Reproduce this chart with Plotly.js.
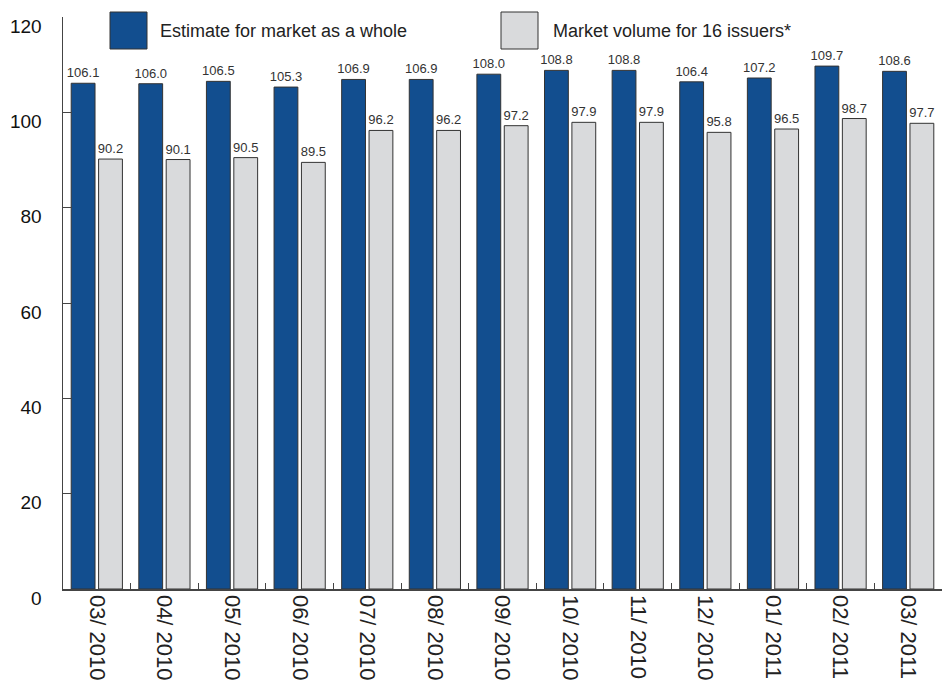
<!DOCTYPE html>
<html>
<head>
<meta charset="utf-8">
<script src="https://cdn.plot.ly/plotly-3.0.1.min.js"></script>
<style>html,body{margin:0;padding:0;background:#fff;}#chart{width:942px;height:695px;}</style>
</head>
<body>
<div id="chart"></div>
<script>
const categories = ["03/ 2010","04/ 2010","05/ 2010","06/ 2010","07/ 2010","08/ 2010","09/ 2010","10/ 2010","11/ 2010","12/ 2010","01/ 2011","02/ 2011","03/ 2011"];
const estimateMarket = [106.1,106.0,106.5,105.3,106.9,106.9,108.0,108.8,108.8,106.4,107.2,109.7,108.6];
const volume16 = [90.2,90.1,90.5,89.5,96.2,96.2,97.2,97.9,97.9,95.8,96.5,98.7,97.7];
const seriesNames = ["Estimate for market as a whole","Market volume for 16 issuers*"];
const yTicks = [0,20,40,60,80,100,120];

const blue = "#124E8F", grey = "#D9DADC", edge = "#333333";
const labelFont = {family: "Liberation Sans Narrow, Liberation Sans, sans-serif", size: 13, color: "#333"};

const traces = [
  {type: "bar", name: seriesNames[0], x: categories, y: estimateMarket,
   marker: {color: blue, line: {color: edge, width: 1}},
   text: estimateMarket.map(v => v.toFixed(1)), textposition: "outside", constraintext: "none",
   textfont: labelFont, cliponaxis: false, showlegend: false, hoverinfo: "none"},
  {type: "bar", name: seriesNames[1], x: categories, y: volume16,
   marker: {color: grey, line: {color: edge, width: 1}},
   text: volume16.map(v => v.toFixed(1)), textposition: "outside", constraintext: "none",
   textfont: labelFont, cliponaxis: false, showlegend: false, hoverinfo: "none"}
];

const layout = {
  width: 942, height: 695,
  margin: {l: 63, r: 0, t: 17, b: 106},
  paper_bgcolor: "#fff", plot_bgcolor: "#fff",
  barmode: "group", bargap: 0.19, bargroupgap: 0.13,
  xaxis: {
    type: "category", showgrid: false, showline: true, linecolor: "#444", linewidth: 1.5,
    ticks: "inside", tickson: "boundaries", ticklen: 6, tickcolor: "#444",
    tickangle: 90, tickfont: {family: "Liberation Sans, Arial, sans-serif", size: 22, color: "#222"},
    range: [-0.5, 12.5], fixedrange: true
  },
  yaxis: {
    range: [0, 120], tickvals: yTicks, ticktext: yTicks.map(String),
    showgrid: false, zeroline: false, showline: true, linecolor: "#444", linewidth: 1.5,
    ticks: "inside", ticklen: 9, tickcolor: "#444", ticklabelstandoff: 16, ticklabelshift: 9,
    tickfont: {family: "Liberation Sans, Arial, sans-serif", size: 19, color: "#111"}
  },
  shapes: [
    {type: "rect", xref: "paper", yref: "paper", x0: 47/879, x1: 84/879, y0: (589-49)/572, y1: (589-12)/572,
     fillcolor: blue, line: {color: edge, width: 1}},
    {type: "rect", xref: "paper", yref: "paper", x0: 438/879, x1: 475/879, y0: (589-49)/572, y1: (589-12)/572,
     fillcolor: grey, line: {color: edge, width: 1}}
  ],
  annotations: [
    {xref: "paper", yref: "paper", x: 95/879, y: (589-31)/572, xanchor: "left", yanchor: "middle",
     text: seriesNames[0], showarrow: false, font: {family: "Liberation Sans, Arial, sans-serif", size: 18, color: "#222"}},
    {xref: "paper", yref: "paper", x: 488/879, y: (589-31)/572, xanchor: "left", yanchor: "middle",
     text: seriesNames[1], showarrow: false, font: {family: "Liberation Sans, Arial, sans-serif", size: 18, color: "#222"}}
  ]
};

Plotly.newPlot("chart", traces, layout, {displayModeBar: false, staticPlot: true});
</script>
</body>
</html>
